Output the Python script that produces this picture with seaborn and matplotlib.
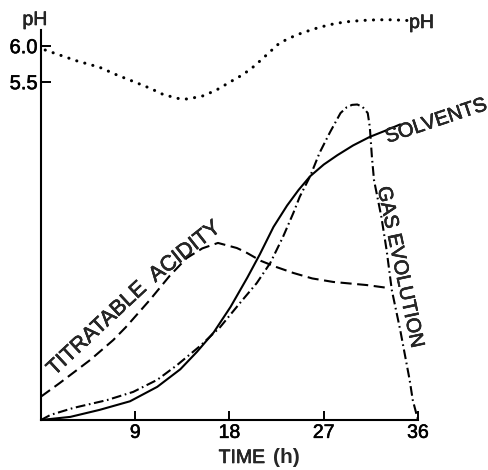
import matplotlib
matplotlib.use("Agg")
import matplotlib.pyplot as plt
import matplotlib.transforms as mtransforms
import matplotlib.patheffects as pe
import seaborn as sns
import pandas as pd

# ---------------- data ----------------
ph_time = [0.4, 1.8, 3.4, 5.6, 7.3, 8.7, 10.4, 11.7, 13.3, 14.0, 15.4, 16.7,
           18.1, 19.3, 20.4, 21.6, 22.8, 24.4, 26.0, 27.5, 29.0, 30.6, 32.1, 33.6, 35.0]
ph_value = [5.94, 5.87, 5.79, 5.70, 5.59, 5.51, 5.41, 5.32, 5.26, 5.26, 5.30, 5.38,
            5.50, 5.60, 5.72, 5.88, 6.04, 6.15, 6.23, 6.29, 6.33, 6.35, 6.36, 6.36, 6.35]

acid_time = [0.0, 1.8, 4.7, 6.9, 8.1, 10.4, 12.3, 13.9, 15.4, 16.9, 18.7, 19.5,
             21.0, 22.5, 24.1, 25.9, 27.9, 31.1, 33.3]
acid_value = [6.0, 9.5, 15.4, 20.5, 23.8, 30.8, 37.0, 41.5, 44.0, 45.4, 44.1, 43.1,
              40.8, 39.2, 37.7, 36.3, 35.4, 34.6, 33.8]

solv_time = [0.0, 2.8, 5.6, 8.5, 11.1, 13.3, 14.9, 16.5, 18.1, 19.7, 20.9, 22.2,
             23.5, 24.6, 25.7, 27.0, 28.3, 29.8, 31.4, 32.9, 34.3]
solv_value = [0.0, 0.8, 2.6, 4.8, 8.5, 13.0, 17.5, 22.5, 29.0, 36.5, 42.5, 49.5,
              55.0, 59.0, 62.5, 65.5, 67.9, 70.4, 72.6, 74.2, 75.8]

gas_time = [0.0, 0.9, 3.1, 6.3, 8.8, 11.1, 13.0, 15.2, 17.1, 19.0, 20.6, 21.9,
            23.1, 24.1, 24.7, 25.7, 26.6, 27.6, 28.6, 29.2, 29.7, 30.2, 30.7, 31.2,
            31.4, 31.6, 31.8, 32.5, 33.0, 33.5, 34.3, 35.2, 35.5, 36.0]
gas_value = [0.0, 1.3, 3.1, 5.1, 7.2, 10.3, 14.1, 19.0, 23.8, 30.0, 35.1, 40.3,
             46.9, 53.1, 57.2, 62.5, 68.5, 73.8, 78.7, 80.2, 80.8, 80.9, 80.3, 78.7,
             75.1, 67.4, 61.5, 52.1, 43.6, 33.3, 23.1, 10.3, 5.1, 0.0]

x_ticks = [9, 18, 27, 36]
ph_ticks = [5.5, 6.0]
ph_tick_labels = ["5.5", "6.0"]

# ---------------- style ----------------
sns.set_style("white")
plt.rcParams["font.family"] = ["Liberation Sans", "DejaVu Sans"]
plt.rcParams["lines.scale_dashes"] = False

heavy = [pe.withStroke(linewidth=0.4, foreground="black")]

W, H = 489, 470
fig = plt.figure(figsize=(W / 100, H / 100), dpi=100)
ax = fig.add_axes([41 / W, 50 / H, 377 / W, 410 / H])
ax.set_xlim(0, 36)
ax.set_ylim(0, 410 / 3.9)

ax2 = ax.twinx()
ax2.set_ylim(6.0 - (420 - 45.7) / 72, 6.0 + (45.7 - 10) / 72)

lw = 1.5
df_acid = pd.DataFrame({"t": acid_time, "v": acid_value})
df_solv = pd.DataFrame({"t": solv_time, "v": solv_value})
df_gas = pd.DataFrame({"t": gas_time, "v": gas_value})
df_ph = pd.DataFrame({"t": ph_time, "v": ph_value})

sns.lineplot(data=df_acid, x="t", y="v", ax=ax, color="black", lw=lw,
             sort=False, estimator=None, linestyle=(0, (8.0, 4.0)))
sns.lineplot(data=df_solv, x="t", y="v", ax=ax, color="black", lw=lw,
             sort=False, estimator=None)
sns.lineplot(data=df_gas, x="t", y="v", ax=ax, color="black", lw=lw,
             sort=False, estimator=None, linestyle=(0, (7.0, 2.6, 1.2, 2.6)))
sns.lineplot(data=df_ph, x="t", y="v", ax=ax2, color="black", lw=2.2,
             sort=False, estimator=None, linestyle=(0, (0.1, 5.9)),
             dash_capstyle="round")

for a in (ax, ax2):
    a.set_xlabel("")
    a.set_ylabel("")
    for line in a.get_lines():
        line.set_clip_on(False)

# spines
for s in ("top", "right"):
    ax.spines[s].set_visible(False)
for s in ax2.spines.values():
    s.set_visible(False)
ax.spines["left"].set_bounds(0, 100)
for s in ("left", "bottom"):
    ax.spines[s].set_color("black")
    ax.spines[s].set_linewidth(1.5)

# ticks
ax.set_yticks([])
ax.set_xticks(x_ticks)
ax.set_xticklabels([str(v) for v in x_ticks])
ax.tick_params(axis="x", direction="in", length=6.5, width=1.4, pad=3.5,
               labelsize=14, colors="black", bottom=True)
ax2.yaxis.tick_left()
ax2.set_yticks(ph_ticks)
ax2.set_yticklabels(ph_tick_labels)
ax2.tick_params(axis="y", direction="in", length=7, width=1.4, pad=2.5,
                labelsize=14.5, colors="black", left=True, right=False)
for lab in ax.get_xticklabels() + ax2.get_yticklabels():
    lab.set_path_effects(heavy)

# axis title
trans = mtransforms.blended_transform_factory(ax.transData, fig.transFigure)
ax.text(21.4, 1 - 463 / H, "TIME", transform=trans, ha="right", va="baseline",
        fontsize=14, path_effects=heavy)
ax.text(22.2, 1 - 463 / H, "(h)", transform=trans, ha="left", va="baseline",
        fontsize=15, fontweight="bold")
fig.text(35 / W, 1 - 25 / H, "pH", ha="center", va="baseline", fontsize=14,
         path_effects=heavy)
ax.text(35.15, (420 - 28) / 3.9, "pH", ha="left", va="baseline", fontsize=14,
        clip_on=False, path_effects=heavy)

# curve labels
def px(xp, yp):
    return ((xp - 41) / 10.47, (420 - yp) / 3.9)

ax.text(*px(97, 329), "TITRATABLE", rotation=43.0, rotation_mode="anchor",
        ha="center", va="center", fontsize=15.5, path_effects=heavy)
ax.text(*px(185, 252), "ACIDITY", rotation=38.5, rotation_mode="anchor",
        ha="center", va="center", fontsize=15.5, path_effects=heavy)
ax.text(*px(436, 121), "SOLVENTS", rotation=18.5, rotation_mode="anchor",
        ha="center", va="center", fontsize=14.5, clip_on=False, path_effects=heavy)
ax.text(*px(400, 267), "GAS EVOLUTION", rotation=-78, rotation_mode="anchor",
        ha="center", va="center", fontsize=14.5, clip_on=False, path_effects=heavy)

fig.savefig("out.png", dpi=100)
